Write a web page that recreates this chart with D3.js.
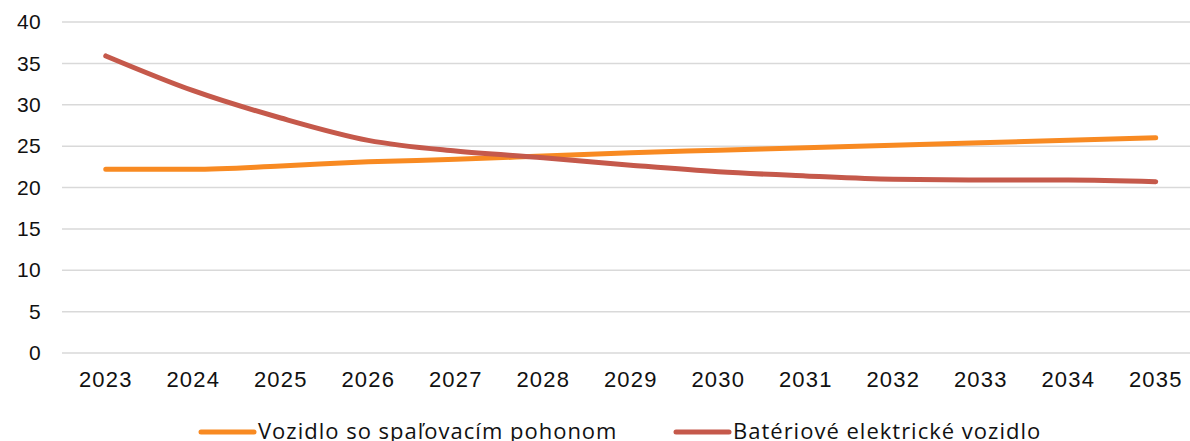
<!DOCTYPE html>
<html>
<head>
<meta charset="utf-8">
<script src="https://cdn.jsdelivr.net/npm/d3@7"></script>
<style>
  body { margin: 0; background: #fff; }
  svg { display: block; font-family: "Open Sans", Roboto, sans-serif; }
  .axis text { fill: #111; }
  .axis-y text { font-size: 21px; letter-spacing: 0.3px; }
  .axis-x text { font-size: 22px; letter-spacing: 1.2px; }
  .legend text { fill: #111; font-size: 22px; letter-spacing: 1px; }
</style>
</head>
<body>
<div class="artboard"></div>
<script>
// categories and series
var years = ['2023', '2024', '2025', '2026', '2027', '2028', '2029', '2030', '2031', '2032', '2033', '2034', '2035'];
var combustion = [22.2, 22.2, 22.6, 23.1, 23.4, 23.8, 24.2, 24.5, 24.8, 25.1, 25.4, 25.7, 26.0];
var electric = [35.9, 31.7, 28.4, 25.7, 24.4, 23.6, 22.7, 21.9, 21.4, 21.0, 20.9, 20.9, 20.7];
var yTicks = [0, 5, 10, 15, 20, 25, 30, 35, 40];
var seriesNames = ['Vozidlo so spaľovacím pohonom', 'Batériové elektrické vozidlo'];

var width = 1190;
var height = 441;
var margin = { left: 62, top: 22, bottom: 88 };
var plotW = 1137.5;
var plotH = height - margin.top - margin.bottom;

var svg = d3.select('.artboard').append('svg')
  .attr('width', width)
  .attr('height', height);

var x = d3.scaleBand()
  .domain(years)
  .range([margin.left, margin.left + plotW]);

var y = d3.scaleLinear()
  .domain([0, 40])
  .range([margin.top + plotH, margin.top]);

// gridlines
svg.append('g')
  .selectAll('line')
  .data(yTicks)
  .enter().append('line')
  .attr('x1', margin.left)
  .attr('x2', margin.left + plotW)
  .attr('y1', function(d) { return y(d); })
  .attr('y2', function(d) { return y(d); })
  .attr('stroke', '#d9d9d9')
  .attr('stroke-width', 1.5);

// y axis labels
var yAxis = svg.append('g')
  .attr('class', 'axis axis-y')
  .attr('transform', 'translate(' + margin.left + ',0)')
  .call(d3.axisLeft(y).tickValues(yTicks).tickSize(0).tickPadding(21));
yAxis.select('.domain').remove();

// x axis labels
var xAxis = svg.append('g')
  .attr('class', 'axis axis-x')
  .attr('transform', 'translate(0,' + (margin.top + plotH) + ')')
  .call(d3.axisBottom(x).tickSize(0).tickPadding(18));
xAxis.select('.domain').remove();

var line = d3.line()
  .x(function(d, i) { return x(years[i]) + x.bandwidth() / 2; })
  .y(function(d) { return y(d); })
  .curve(d3.curveMonotoneX);

var series = [
  { name: seriesNames[0], values: combustion, color: '#F88A22' },
  { name: seriesNames[1], values: electric, color: '#C5594B' }
];

series.forEach(function(s) {
  svg.append('path')
    .datum(s.values)
    .attr('fill', 'none')
    .attr('stroke', s.color)
    .attr('stroke-width', 5)
    .attr('stroke-linecap', 'round')
    .attr('stroke-linejoin', 'round')
    .attr('d', line);
});

// legend
var legendPos = [200, 675];
var legend = svg.append('g').attr('class', 'legend');
series.forEach(function(s, idx) {
  var lx = legendPos[idx];
  legend.append('line')
    .attr('x1', lx + 1)
    .attr('x2', lx + 54)
    .attr('y1', 432)
    .attr('y2', 432)
    .attr('stroke', s.color)
    .attr('stroke-width', 5)
    .attr('stroke-linecap', 'round');
  legend.append('text')
    .attr('x', lx + 58)
    .attr('y', 439)
    .text(s.name);
});
</script>
</body>
</html>
